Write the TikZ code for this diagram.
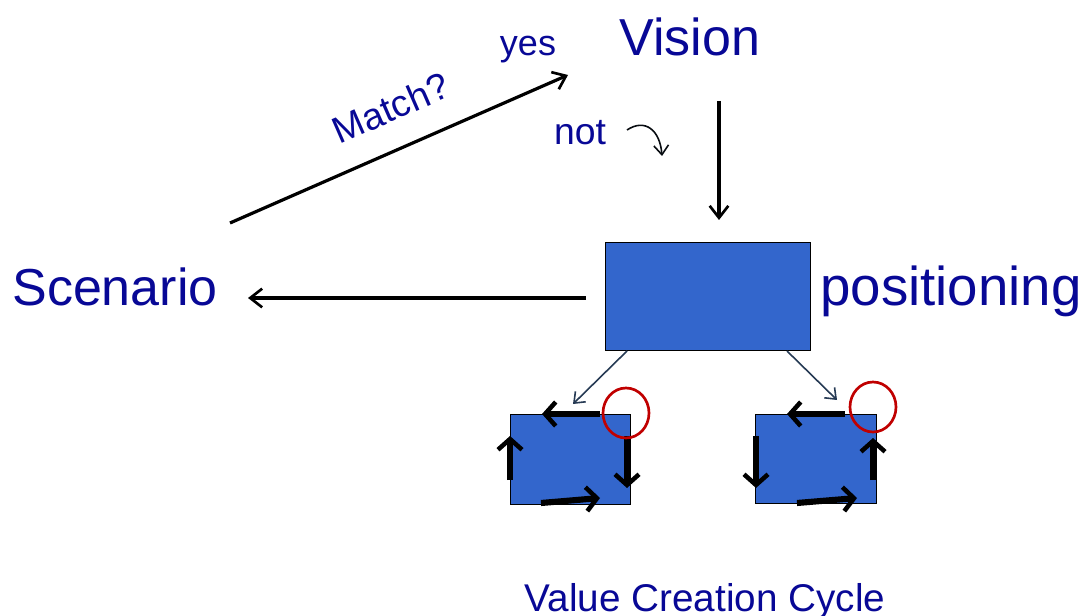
\documentclass[tikz,border=0pt]{standalone}
\usepackage{fontspec}
\setmainfont{Liberation Sans}
\usetikzlibrary{arrows.meta}
\definecolor{txtblue}{RGB}{8,8,150}
\definecolor{boxblue}{RGB}{51,102,204}
\definecolor{slate}{RGB}{38,58,84}
\definecolor{ringred}{RGB}{192,0,0}
\tikzset{
  bigtxt/.style={text=txtblue, inner sep=0pt, anchor=base, font=\fontsize{39}{46}\selectfont},
  midtxt/.style={text=txtblue, inner sep=0pt, anchor=base, font=\fontsize{28}{34}\selectfont},
  block/.style={draw=black, line width=1pt, fill=boxblue, inner sep=0pt},
  mainarrow/.style={draw=black, line width=2.4pt, -{Straight Barb[length=9pt, width=14pt, line width=2pt]}},
  thinarrow/.style={draw=slate, line width=1.2pt, -{Straight Barb[length=7pt, width=11pt, line width=1.2pt]}},
  cyclearrow/.style={draw=black, line width=4.6pt, -{Straight Barb[length=8pt, width=18pt, line width=3.4pt]}}
}
\begin{document}
\begin{tikzpicture}[x=0.75pt, y=-0.75pt]
\useasboundingbox (0,0) rectangle (1088,616);

% labels
\node[bigtxt] (vision) at (690,56) {Vision};
\node[bigtxt] (scen) at (115,306) {Scenario};
\node[bigtxt, font=\fontsize{41}{48}\selectfont] (pos) at (951,306) {positioning};
\node[midtxt, font=\fontsize{27}{32}\selectfont] (yes) at (528,56) {yes};
\node[midtxt] (not) at (580,145) {not};
\node[midtxt, rotate=23.6] (match) at (396,120) {Match?};
\node[midtxt, font=\fontsize{29}{35}\selectfont] (vcc) at (705,611) {Value Creation Cycle};

% central block and the two cycle blocks
\node[block, minimum width=205*0.75pt, minimum height=108*0.75pt, anchor=north west] (big) at (605,242) {};
\node[block, minimum width=120*0.75pt, minimum height=90*0.75pt, anchor=north west] (lbox) at (510,414) {};
\node[block, minimum width=121*0.75pt, minimum height=89*0.75pt, anchor=north west] (rbox) at (755,414) {};

% main flow
\coordinate (ms) at (230,223);
\coordinate (me) at (568,75);
\draw[mainarrow] (ms) -- (me);
\coordinate (vs) at (719,101);
\coordinate (ve) at (719,220);
\draw[mainarrow] (vs) -- (ve);
\coordinate (ss) at (586,298);
\coordinate (se) at (248,298);
\draw[mainarrow] (ss) -- (se);

% small curved hint next to "not"
\coordinate (ns) at (627,130);
\coordinate (ne) at (662,156);
\draw[thinarrow, draw=black!80!slate] (ns) .. controls (645,118) and (660,130) .. (ne);

% branches from the block
\coordinate (bl1) at (627,351);
\coordinate (bl2) at (573,404);
\coordinate (br1) at (787,351);
\coordinate (br2) at (837,400);
\draw[thinarrow] (bl1) -- (bl2);
\draw[thinarrow] (br1) -- (br2);

% left cycle (clockwise)
\coordinate (la1) at (600,414); \coordinate (la2) at (542,414);
\coordinate (lb1) at (627,436); \coordinate (lb2) at (627,488);
\coordinate (lc1) at (541,503); \coordinate (lc2) at (600,498);
\coordinate (ld1) at (510,480); \coordinate (ld2) at (510,436);
\draw[cyclearrow] (la1) -- (la2);
\draw[cyclearrow] (lb1) -- (lb2);
\draw[cyclearrow] (lc1) -- (lc2);
\draw[cyclearrow] (ld1) -- (ld2);

% right cycle
\coordinate (ra1) at (845,414); \coordinate (ra2) at (787,414);
\coordinate (rb1) at (756,436); \coordinate (rb2) at (756,488);
\coordinate (rc1) at (797,503); \coordinate (rc2) at (857,498);
\coordinate (rd1) at (873,480); \coordinate (rd2) at (873,438);
\draw[cyclearrow] (ra1) -- (ra2);
\draw[cyclearrow] (rb1) -- (rb2);
\draw[cyclearrow] (rc1) -- (rc2);
\draw[cyclearrow] (rd1) -- (rd2);

% highlight rings
\draw[draw=ringred, line width=2pt] (626,413) ellipse [x radius=23, y radius=25];
\draw[draw=ringred, line width=2pt] (873,407) ellipse [x radius=23, y radius=25];
\end{tikzpicture}
\end{document}
